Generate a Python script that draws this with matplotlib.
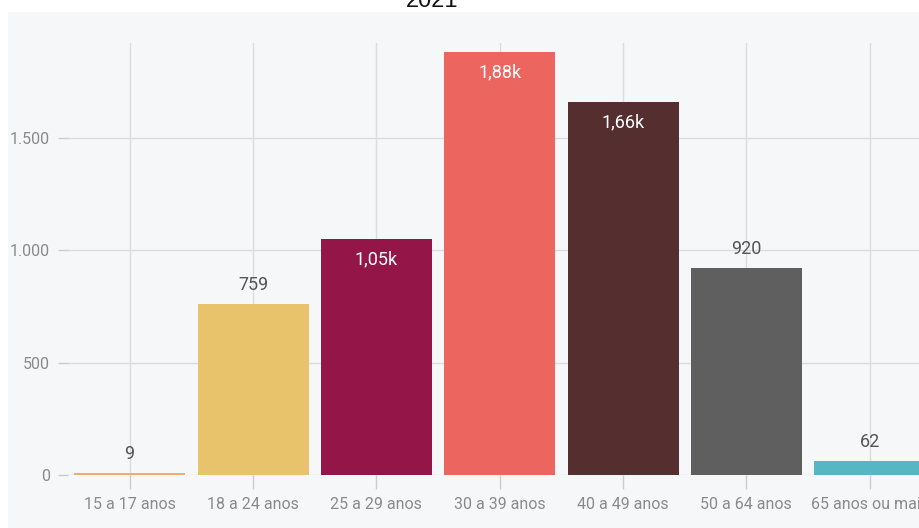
import matplotlib.pyplot as plt
from matplotlib.patches import Rectangle

# data
categories = ["15 a 17 anos", "18 a 24 anos", "25 a 29 anos", "30 a 39 anos",
              "40 a 49 anos", "50 a 64 anos", "65 anos ou mais"]
values = [9, 759, 1050, 1880, 1660, 920, 62]
colors = ["#f4aa6c", "#e8c36b", "#941648", "#ec655f", "#552f30", "#5f5f5f", "#56b6c6"]
yticks = [0, 500, 1000, 1500]
ytick_labels = ["0", "500", "1.000", "1.500"]
title = "2021"

plt.rcParams['font.family'] = ['Roboto', 'DejaVu Sans']

W, H = 919, 528
fig = plt.figure(figsize=(W / 100, H / 100), dpi=100)
fig.patch.set_facecolor("white")

# gray panel behind the chart
fig.patches.append(Rectangle((8 / W, 0), 1 - 8 / W, 1 - 12 / H, transform=fig.transFigure,
                             facecolor="#f6f7f9", edgecolor="none", zorder=-10))

fig.text(432 / W, 1 - 7 / H, title, ha="center", va="baseline", fontsize=17,
         color="#111111", family=['Liberation Sans', 'DejaVu Sans'])

ax = fig.add_axes([68 / W, 53 / H, 1 - 68 / W, (475 - 43) / H])
ax.set_facecolor("none")

x = list(range(len(categories)))
ax.bar(x, values, width=0.9, color=colors, zorder=3)

for xi, v in zip(x, values):
    if v >= 1000:
        lbl = f"{v / 1000:.2f}k".replace(".", ",")
        ax.annotate(lbl, (xi, v), xytext=(0, -14.5), textcoords="offset points",
                    ha="center", va="center", color="white", fontsize=13, zorder=4)
    else:
        ax.annotate(str(v), (xi, v), xytext=(0, 14), textcoords="offset points",
                    ha="center", va="center", color="#555555", fontsize=13, zorder=4)

ax.set_xlim(-0.5, 6.4)
ax.set_ylim(0, 1922)
ax.set_xticks(x)
ax.set_xticklabels(categories)
ax.set_yticks(yticks)
ax.set_yticklabels(ytick_labels)

for s in ax.spines.values():
    s.set_visible(False)
ax.grid(True, color="#dcdcdc", linewidth=1, zorder=0)
ax.set_axisbelow(True)
ax.tick_params(axis="x", length=10, width=1, color="#cccccc", labelcolor="#8a8a8a",
               labelsize=11.5, pad=6)
ax.tick_params(axis="y", length=7, width=1, color="#cccccc", labelcolor="#8a8a8a",
               labelsize=11.5, pad=6)

fig.savefig("out.png", dpi=100, facecolor="white")
